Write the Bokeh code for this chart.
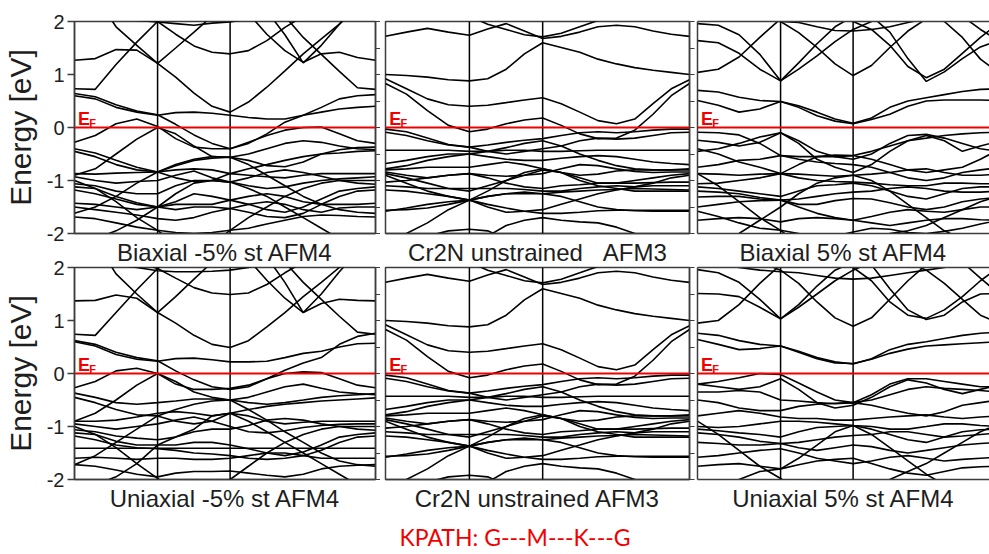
from bokeh.plotting import figure
from bokeh.layouts import column, row
from bokeh.models import Range1d, Span, Label, LinearAxis, FixedTicker, Title
from bokeh.embed import file_html
from bokeh.resources import INLINE

# positions along the G-M-K-G path (fraction of path length)
KPOS = [0.0, 0.069, 0.138, 0.207, 0.276, 0.336, 0.397, 0.457, 0.517,
        0.578, 0.639, 0.699, 0.760, 0.820, 0.880, 0.940, 1.0]
M_POS = 0.276
K_POS = 0.517

Y_TICKS = [-2, -1, 0, 1, 2]
Y_TICK_LABELS = ["-2", "-1", "0", "1", "2"]
HALF_TICKS = [-2, -1.5, -1, -0.5, 0, 0.5, 1, 1.5, 2]

TITLES_TOP = ["Biaxial -5% st AFM4", "Cr2N unstrained\u00a0\u00a0\u00a0AFM3", "Biaxial 5% st AFM4"]
TITLES_BOTTOM = ["Uniaxial -5% st AFM4", "Cr2N unstrained AFM3", "Uniaxial 5% st AFM4"]
PATH_NOTE = "KPATH: G---M---K---G"

# band energies (eV) sampled at KPOS
BIAX_M5 = [
    [1.27, 1.30, 1.47, 1.46, 1.21, 1.50, 1.80, 2.10, 2.30, 2.15, 1.76, 1.45, 1.23, 1.39, 1.42, 1.32, 1.27],
    [2.5, 2.5, 2.5, 2.5, 2.5, 2.5, 2.5, 2.5, 2.5, 2.5, 2.2, 1.75, 1.22, 1.55, 1.95, 2.3, 2.5],
    [0.73, 0.72, 1.19, 1.61, 2.0, 2.3, 2.5, 2.5, 2.5, 2.5, 2.4, 2.1, 1.7, 1.38, 1.06, 0.75, 0.72],
    [2.5, 2.5, 1.9, 1.55, 1.21, 0.95, 0.65, 0.40, 0.29, 0.48, 0.76, 1.07, 1.39, 1.67, 1.95, 2.3, 2.5],
    [2.5, 2.5, 2.3, 2.1, 2.0, 1.76, 1.54, 1.42, 1.39, 1.45, 1.64, 1.89, 2.1, 2.3, 2.5, 2.5, 2.5],
    [2.3, 2.15, 2.05, 2.02, 1.99, 1.96, 1.93, 1.97, 1.99, 2.05, 2.2, 2.4, 2.5, 2.5, 2.5, 2.5, 2.3],
    [0.60, 0.54, 0.38, 0.29, 0.23, 0.28, 0.29, 0.27, 0.23, 0.19, 0.16, 0.16, 0.23, 0.38, 0.54, 0.60, 0.62],
    [0.64, 0.58, 0.43, 0.31, 0.24, 0.06, -0.14, -0.30, -0.40, -0.30, -0.12, 0.10, 0.23, 0.29, 0.35, 0.38, 0.40],
    [-0.28, -0.15, 0.07, 0.16, 0.02, -0.21, -0.37, -0.40, -0.40, -0.28, -0.15, -0.05, 0.0, 0.01, -0.12, -0.25, -0.30],
    [-0.90, -0.78, -0.50, -0.22, 0.0, -0.12, -0.35, -0.55, -0.56, -0.50, -0.40, -0.30, -0.25, -0.28, -0.35, -0.40, -0.42],
    [-0.40, -0.48, -0.62, -0.75, -0.84, -0.72, -0.62, -0.58, -0.56, -0.62, -0.72, -0.74, -0.65, -0.50, -0.42, -0.38, -0.37],
    [-0.45, -0.55, -0.70, -0.80, -0.84, -0.95, -1.02, -1.00, -0.87, -0.78, -0.70, -0.62, -0.55, -0.50, -0.48, -0.45, -0.44],
    [-0.87, -0.88, -0.86, -0.85, -0.84, -0.80, -0.78, -0.80, -0.87, -0.90, -0.93, -0.95, -0.90, -0.87, -0.87, -0.87, -0.87],
    [-0.93, -1.00, -1.05, -1.02, -1.00, -0.90, -0.82, -0.95, -1.03, -1.10, -1.15, -1.12, -1.05, -1.00, -0.97, -0.95, -0.93],
    [-1.06, -1.10, -1.20, -1.25, -1.25, -1.10, -1.00, -1.00, -1.03, -0.95, -0.85, -0.80, -0.85, -0.92, -1.00, -1.05, -1.07],
    [-1.12, -1.15, -1.30, -1.42, -1.50, -1.40, -1.25, -1.30, -1.37, -1.45, -1.55, -1.60, -1.50, -1.35, -1.20, -1.15, -1.12],
    [-1.18, -1.25, -1.35, -1.45, -1.50, -1.55, -1.50, -1.50, -1.53, -1.60, -1.68, -1.70, -1.62, -1.45, -1.30, -1.20, -1.18],
    [-1.43, -1.45, -1.50, -1.55, -1.50, -1.45, -1.45, -1.45, -1.37, -1.30, -1.25, -1.30, -1.40, -1.45, -1.45, -1.45, -1.43],
    [-1.50, -1.55, -1.60, -1.65, -1.72, -1.75, -1.70, -1.60, -1.53, -1.45, -1.40, -1.45, -1.55, -1.60, -1.52, -1.50, -1.50],
    [-1.69, -1.72, -1.80, -1.88, -1.94, -1.98, -2.00, -1.98, -1.94, -1.90, -1.82, -1.75, -1.68, -1.65, -1.66, -1.68, -1.69],
    [-1.00, -1.15, -1.40, -1.70, -1.94, -2.20, -2.40, -2.20, -1.94, -1.70, -1.50, -1.30, -1.15, -1.05, -1.00, -1.00, -1.00],
    [-2.20, -2.10, -1.95, -1.75, -1.50, -1.25, -1.05, -1.00, -1.03, -1.15, -1.30, -1.50, -1.70, -1.90, -2.10, -2.30, -2.40],
    [-1.62, -1.50, -1.30, -1.05, -0.84, -0.70, -0.60, -0.55, -0.56, -0.70, -0.90, -1.10, -1.30, -1.45, -1.55, -1.60, -1.62],
]

UNSTRAINED = [
    [1.72, 1.80, 1.87, 1.80, 1.74, 1.86, 1.96, 1.82, 1.68, 1.72, 1.80, 1.90, 1.93, 1.90, 1.82, 1.76, 1.72],
    [2.5, 2.5, 2.5, 2.3, 2.1, 1.95, 1.85, 1.75, 1.71, 1.78, 1.90, 2.02, 2.2, 2.4, 2.5, 2.5, 2.5],
    [1.00, 0.98, 0.95, 0.90, 0.88, 0.92, 1.10, 1.39, 1.60, 1.51, 1.42, 1.29, 1.20, 1.13, 1.08, 1.04, 1.00],
    [0.92, 0.73, 0.54, 0.43, 0.40, 0.42, 0.47, 0.52, 0.56, 0.45, 0.29, 0.13, 0.07, 0.16, 0.45, 0.73, 0.90],
    [0.83, 0.63, 0.32, 0.04, -0.08, -0.03, 0.07, 0.14, 0.18, 0.04, -0.12, -0.21, -0.20, -0.05, 0.25, 0.60, 0.83],
    [-0.03, -0.08, -0.20, -0.32, -0.37, -0.33, -0.28, -0.24, -0.21, -0.15, -0.10, -0.08, -0.10, -0.08, -0.05, -0.03, -0.03],
    [-0.09, -0.15, -0.25, -0.33, -0.37, -0.45, -0.50, -0.45, -0.40, -0.35, -0.25, -0.20, -0.22, -0.20, -0.15, -0.10, -0.09],
    [-0.43, -0.43, -0.43, -0.43, -0.45, -0.45, -0.43, -0.43, -0.45, -0.45, -0.44, -0.43, -0.43, -0.43, -0.43, -0.43, -0.43],
    [-0.68, -0.62, -0.55, -0.50, -0.50, -0.55, -0.60, -0.62, -0.62, -0.58, -0.55, -0.53, -0.55, -0.60, -0.65, -0.68, -0.70],
    [-0.78, -0.72, -0.62, -0.55, -0.50, -0.45, -0.38, -0.30, -0.25, -0.35, -0.50, -0.62, -0.72, -0.78, -0.80, -0.80, -0.78],
    [-0.80, -0.78, -0.75, -0.75, -0.75, -0.70, -0.65, -0.70, -0.78, -0.85, -0.90, -0.88, -0.82, -0.80, -0.80, -0.80, -0.80],
    [-0.84, -0.90, -0.95, -0.90, -0.87, -0.90, -0.92, -0.90, -0.87, -0.78, -0.70, -0.72, -0.78, -0.83, -0.85, -0.84, -0.84],
    [-0.87, -0.95, -1.05, -1.15, -1.20, -1.10, -1.00, -0.90, -0.80, -0.85, -0.95, -1.05, -1.05, -1.00, -0.95, -0.90, -0.87],
    [-1.03, -1.00, -0.95, -0.90, -0.87, -0.95, -1.05, -1.12, -1.15, -1.10, -1.08, -1.05, -1.05, -1.05, -1.04, -1.03, -1.03],
    [-1.10, -1.12, -1.15, -1.15, -1.15, -1.15, -1.15, -1.17, -1.20, -1.20, -1.15, -1.12, -1.10, -1.12, -1.10, -1.10, -1.10],
    [-1.18, -1.20, -1.25, -1.30, -1.37, -1.30, -1.25, -1.22, -1.25, -1.22, -1.20, -1.18, -1.17, -1.15, -1.16, -1.17, -1.18],
    [-1.56, -1.55, -1.52, -1.45, -1.37, -1.45, -1.52, -1.58, -1.62, -1.62, -1.60, -1.57, -1.56, -1.56, -1.56, -1.56, -1.56],
    [-1.58, -1.52, -1.45, -1.40, -1.37, -1.30, -1.25, -1.25, -1.25, -1.30, -1.40, -1.50, -1.55, -1.57, -1.58, -1.58, -1.58],
    [-2.20, -2.00, -1.80, -1.55, -1.37, -1.20, -1.00, -0.85, -0.78, -0.85, -1.00, -1.10, -1.15, -1.20, -1.20, -1.20, -1.20],
    [-0.90, -1.05, -1.20, -1.30, -1.37, -1.50, -1.60, -1.58, -1.55, -1.45, -1.35, -1.25, -1.18, -1.12, -1.05, -0.95, -0.90],
    [-2.30, -2.20, -2.05, -1.95, -1.92, -1.95, -2.10, -2.30, -2.30, -2.30, -2.30, -2.30, -2.30, -2.30, -2.30, -2.30, -2.30],
    [-2.30, -2.30, -2.30, -2.30, -2.20, -2.05, -1.85, -1.75, -1.70, -1.75, -1.78, -1.80, -1.88, -2.00, -2.20, -2.30, -2.30],
]

BIAX_P5 = [
    [1.96, 1.93, 1.75, 1.38, 0.88, 1.22, 1.58, 1.90, 2.10, 2.30, 2.50, 2.50, 2.50, 2.50, 2.40, 2.15, 1.96],
    [1.64, 1.60, 1.40, 1.10, 0.88, 1.10, 1.35, 1.62, 1.85, 2.00, 2.20, 2.40, 2.50, 2.40, 2.10, 1.85, 1.64],
    [1.04, 1.10, 1.33, 1.70, 2.05, 2.30, 2.50, 2.50, 2.50, 2.50, 2.50, 2.30, 2.15, 2.00, 1.70, 1.29, 1.04],
    [2.5, 2.5, 2.3, 2.1, 2.0, 1.79, 1.51, 1.20, 0.98, 1.17, 1.51, 1.82, 2.05, 2.3, 2.5, 2.5, 2.5],
    [2.5, 2.5, 2.5, 2.5, 2.5, 2.5, 2.2, 2.05, 2.0, 1.85, 1.55, 1.15, 0.94, 1.10, 1.40, 1.70, 1.96],
    [2.5, 2.5, 2.5, 2.5, 2.5, 2.5, 2.5, 2.5, 2.3, 2.10, 1.80, 1.30, 0.87, 1.05, 1.30, 1.52, 1.64],
    [2.10, 2.10, 2.05, 2.02, 2.00, 1.98, 1.90, 1.83, 1.82, 1.85, 1.90, 1.98, 2.05, 2.10, 2.20, 2.20, 2.10],
    [0.70, 0.67, 0.57, 0.51, 0.49, 0.41, 0.29, 0.16, 0.08, 0.18, 0.38, 0.50, 0.56, 0.62, 0.68, 0.72, 0.73],
    [0.51, 0.42, 0.29, 0.35, 0.49, 0.38, 0.22, 0.12, 0.07, 0.15, 0.25, 0.40, 0.50, 0.52, 0.52, 0.52, 0.51],
    [-0.45, -0.40, -0.30, -0.18, -0.10, -0.25, -0.45, -0.55, -0.60, -0.50, -0.30, -0.15, -0.13, -0.20, -0.30, -0.40, -0.45],
    [-0.09, -0.10, -0.14, -0.30, -0.53, -0.55, -0.55, -0.55, -0.53, -0.45, -0.35, -0.25, -0.20, -0.15, -0.12, -0.10, -0.09],
    [-0.24, -0.28, -0.35, -0.28, -0.10, -0.30, -0.60, -0.75, -0.85, -0.70, -0.45, -0.25, -0.15, -0.25, -0.45, -0.35, -0.26],
    [-0.40, -0.50, -0.65, -0.75, -0.87, -0.70, -0.55, -0.52, -0.53, -0.60, -0.70, -0.80, -0.85, -0.80, -0.75, -0.60, -0.42],
    [-0.75, -0.70, -0.62, -0.60, -0.53, -0.60, -0.65, -0.68, -0.70, -0.75, -0.85, -0.95, -1.00, -0.95, -0.85, -0.80, -0.76],
    [-0.87, -0.88, -0.90, -0.88, -0.87, -0.88, -0.90, -0.92, -0.90, -0.88, -0.85, -0.80, -0.78, -0.85, -0.90, -0.90, -0.88],
    [-1.06, -1.05, -1.00, -0.95, -0.87, -0.95, -1.00, -1.02, -1.03, -1.05, -1.08, -1.10, -1.10, -1.05, -1.05, -1.06, -1.06],
    [-1.12, -1.15, -1.20, -1.25, -1.30, -1.20, -1.10, -1.08, -1.05, -1.10, -1.20, -1.30, -1.35, -1.25, -1.15, -1.12, -1.12],
    [-1.20, -1.22, -1.25, -1.32, -1.37, -1.35, -1.30, -1.25, -1.22, -1.20, -1.15, -1.12, -1.15, -1.20, -1.22, -1.22, -1.20],
    [-1.31, -1.30, -1.30, -1.35, -1.37, -1.45, -1.45, -1.38, -1.34, -1.35, -1.42, -1.50, -1.55, -1.50, -1.40, -1.35, -1.32],
    [-1.50, -1.45, -1.40, -1.38, -1.37, -1.50, -1.62, -1.70, -1.75, -1.68, -1.60, -1.55, -1.58, -1.60, -1.55, -1.50, -1.50],
    [-1.75, -1.72, -1.70, -1.72, -1.78, -1.72, -1.70, -1.72, -1.75, -1.80, -1.85, -1.80, -1.75, -1.72, -1.72, -1.74, -1.75],
    [-1.58, -1.68, -1.80, -1.90, -1.94, -2.00, -2.10, -2.05, -1.97, -1.90, -1.92, -1.98, -2.00, -1.96, -1.90, -1.82, -1.75],
    [-0.87, -1.10, -1.40, -1.70, -1.94, -2.20, -2.40, -2.40, -2.30, -2.10, -2.00, -1.95, -1.85, -1.70, -1.55, -1.40, -1.30],
    [-2.30, -2.20, -2.00, -1.75, -1.50, -1.25, -1.05, -0.95, -0.90, -1.00, -1.20, -1.45, -1.70, -1.95, -2.10, -2.20, -2.30],
]

UNIAX_M5 = [
    [1.37, 1.38, 1.48, 1.42, 1.15, 1.45, 1.78, 2.10, 2.30, 2.15, 1.76, 1.42, 1.15, 1.32, 1.40, 1.38, 1.37],
    [2.5, 2.5, 2.5, 2.5, 2.5, 2.5, 2.5, 2.5, 2.5, 2.5, 2.2, 1.72, 1.15, 1.50, 1.92, 2.3, 2.5],
    [0.74, 0.72, 1.15, 1.58, 1.98, 2.3, 2.5, 2.5, 2.5, 2.5, 2.4, 2.1, 1.72, 1.40, 1.08, 0.78, 0.74],
    [2.5, 2.5, 1.88, 1.50, 1.15, 0.95, 0.72, 0.55, 0.49, 0.62, 0.88, 1.15, 1.45, 1.72, 2.0, 2.3, 2.5],
    [2.5, 2.5, 2.3, 2.1, 1.98, 1.80, 1.62, 1.52, 1.49, 1.52, 1.68, 1.90, 2.1, 2.3, 2.5, 2.5, 2.5],
    [2.3, 2.15, 2.05, 2.0, 1.94, 1.92, 1.92, 1.93, 1.95, 2.0, 2.15, 2.4, 2.5, 2.5, 2.5, 2.5, 2.3],
    [0.60, 0.52, 0.36, 0.27, 0.23, 0.28, 0.29, 0.26, 0.22, 0.22, 0.23, 0.30, 0.38, 0.42, 0.50, 0.56, 0.57],
    [0.62, 0.55, 0.40, 0.30, 0.24, 0.05, -0.12, -0.25, -0.30, -0.25, -0.10, 0.06, 0.20, 0.30, 0.55, 0.70, 0.76],
    [-0.27, -0.15, 0.05, 0.10, 0.0, -0.20, -0.30, -0.30, -0.28, -0.22, -0.10, 0.0, 0.03, 0.02, -0.10, -0.22, -0.27],
    [-0.90, -0.75, -0.50, -0.22, 0.0, -0.15, -0.35, -0.45, -0.50, -0.45, -0.35, -0.25, -0.20, -0.28, -0.35, -0.38, -0.40],
    [-0.37, -0.45, -0.55, -0.58, -0.55, -0.52, -0.48, -0.48, -0.50, -0.55, -0.58, -0.55, -0.50, -0.45, -0.42, -0.40, -0.38],
    [-0.45, -0.55, -0.68, -0.78, -0.80, -0.90, -0.95, -0.90, -0.75, -0.68, -0.62, -0.58, -0.55, -0.52, -0.50, -0.48, -0.46],
    [-0.90, -0.90, -0.88, -0.82, -0.75, -0.72, -0.75, -0.80, -0.75, -0.80, -0.90, -0.95, -0.92, -0.90, -0.90, -0.90, -0.90],
    [-0.95, -1.00, -1.05, -1.00, -0.95, -0.88, -0.82, -0.90, -1.00, -1.10, -1.12, -1.08, -1.02, -0.98, -0.96, -0.95, -0.95],
    [-1.06, -1.10, -1.18, -1.22, -1.25, -1.20, -1.10, -1.05, -1.05, -0.98, -0.88, -0.85, -0.88, -0.95, -1.00, -1.05, -1.07],
    [-1.12, -1.15, -1.28, -1.35, -1.35, -1.35, -1.30, -1.30, -1.35, -1.42, -1.50, -1.55, -1.48, -1.35, -1.20, -1.15, -1.12],
    [-1.18, -1.25, -1.35, -1.40, -1.42, -1.45, -1.50, -1.52, -1.55, -1.60, -1.62, -1.60, -1.55, -1.45, -1.30, -1.20, -1.18],
    [-1.41, -1.41, -1.41, -1.41, -1.41, -1.41, -1.41, -1.41, -1.41, -1.41, -1.41, -1.41, -1.41, -1.41, -1.41, -1.41, -1.41],
    [-1.60, -1.58, -1.60, -1.62, -1.60, -1.60, -1.62, -1.62, -1.60, -1.55, -1.50, -1.50, -1.55, -1.60, -1.60, -1.60, -1.60],
    [-1.72, -1.75, -1.82, -1.90, -1.95, -1.88, -1.85, -1.85, -1.84, -1.88, -1.92, -1.95, -1.90, -1.80, -1.75, -1.73, -1.72],
    [-1.00, -1.15, -1.40, -1.70, -1.98, -2.20, -2.40, -2.20, -2.00, -1.75, -1.50, -1.30, -1.15, -1.05, -1.00, -1.00, -1.00],
    [-2.20, -2.10, -1.95, -1.70, -1.35, -1.20, -1.05, -0.80, -0.75, -0.90, -1.10, -1.30, -1.50, -1.70, -1.90, -2.10, -2.30],
    [-1.72, -1.55, -1.30, -1.05, -0.80, -0.68, -0.58, -0.52, -0.50, -0.68, -0.88, -1.10, -1.30, -1.50, -1.65, -1.72, -1.75],
]

UNIAX_P5 = [
    [1.96, 1.90, 1.72, 1.40, 1.03, 1.30, 1.65, 1.95, 2.10, 2.30, 2.50, 2.50, 2.50, 2.50, 2.40, 2.15, 1.96],
    [1.51, 1.50, 1.45, 1.25, 1.03, 1.25, 1.50, 1.75, 1.95, 2.10, 2.30, 2.50, 2.50, 2.40, 2.10, 1.80, 1.51],
    [0.95, 1.00, 1.30, 1.70, 2.05, 2.30, 2.50, 2.50, 2.50, 2.50, 2.30, 2.10, 1.95, 1.70, 1.40, 1.10, 0.95],
    [2.5, 2.5, 2.3, 2.1, 1.95, 1.70, 1.35, 1.05, 0.89, 1.05, 1.40, 1.75, 2.05, 2.30, 2.50, 2.50, 2.50],
    [2.5, 2.5, 2.5, 2.5, 2.5, 2.5, 2.3, 2.1, 2.0, 1.75, 1.35, 1.10, 1.04, 1.20, 1.45, 1.75, 2.00],
    [2.5, 2.5, 2.5, 2.5, 2.5, 2.5, 2.5, 2.5, 2.3, 2.05, 1.60, 1.20, 1.02, 1.10, 1.35, 1.50, 1.51],
    [2.10, 2.05, 2.00, 1.95, 1.92, 1.90, 1.85, 1.80, 1.78, 1.80, 1.85, 1.90, 1.95, 2.00, 2.05, 2.10, 2.10],
    [0.76, 0.72, 0.62, 0.55, 0.52, 0.42, 0.30, 0.22, 0.18, 0.28, 0.45, 0.55, 0.60, 0.66, 0.72, 0.76, 0.78],
    [0.64, 0.55, 0.45, 0.47, 0.52, 0.40, 0.28, 0.20, 0.19, 0.27, 0.38, 0.46, 0.52, 0.54, 0.56, 0.58, 0.60],
    [-0.20, -0.15, -0.08, 0.00, -0.02, -0.18, -0.35, -0.50, -0.55, -0.40, -0.20, -0.10, -0.10, -0.15, -0.20, -0.25, -0.25],
    [-0.20, -0.25, -0.30, -0.25, -0.10, -0.30, -0.55, -0.65, -0.60, -0.45, -0.25, -0.12, -0.18, -0.30, -0.38, -0.30, -0.22],
    [-0.35, -0.35, -0.32, -0.35, -0.50, -0.52, -0.55, -0.57, -0.55, -0.50, -0.40, -0.30, -0.25, -0.28, -0.30, -0.32, -0.35],
    [-0.50, -0.55, -0.65, -0.70, -0.70, -0.62, -0.58, -0.56, -0.55, -0.60, -0.68, -0.75, -0.80, -0.72, -0.60, -0.55, -0.50],
    [-0.80, -0.75, -0.70, -0.75, -0.82, -0.85, -0.85, -0.88, -0.88, -0.85, -0.82, -0.80, -0.78, -0.82, -0.85, -0.82, -0.80],
    [-1.00, -1.02, -1.00, -0.95, -0.90, -0.90, -0.92, -0.95, -0.98, -1.00, -1.05, -1.05, -1.00, -0.95, -0.95, -0.98, -1.00],
    [-1.05, -1.08, -1.12, -1.15, -1.20, -1.10, -1.02, -1.00, -0.98, -1.05, -1.15, -1.25, -1.30, -1.20, -1.10, -1.06, -1.05],
    [-1.12, -1.15, -1.20, -1.28, -1.32, -1.30, -1.25, -1.20, -1.17, -1.15, -1.10, -1.10, -1.15, -1.20, -1.18, -1.15, -1.12],
    [-1.30, -1.32, -1.35, -1.35, -1.32, -1.40, -1.45, -1.40, -1.35, -1.38, -1.45, -1.50, -1.45, -1.40, -1.35, -1.32, -1.30],
    [-1.58, -1.55, -1.50, -1.45, -1.42, -1.50, -1.60, -1.65, -1.70, -1.65, -1.58, -1.55, -1.60, -1.65, -1.62, -1.60, -1.58],
    [-1.75, -1.72, -1.70, -1.75, -1.80, -1.72, -1.65, -1.62, -1.60, -1.70, -1.80, -1.88, -1.92, -1.85, -1.78, -1.76, -1.75],
    [-0.90, -1.15, -1.45, -1.75, -1.98, -2.20, -2.30, -2.30, -2.30, -2.20, -2.00, -1.85, -1.70, -1.50, -1.30, -1.10, -0.95],
    [-2.30, -2.20, -2.00, -1.85, -1.80, -1.60, -1.35, -1.10, -0.98, -1.15, -1.40, -1.65, -1.90, -2.10, -2.20, -2.30, -2.30],
]

FRAME = "#3c3c3c"
RED = "#f20000"
TEXT = "#1e1e1e"
FONT = "Liberation Sans"


def blank_axis(**kw):
    return LinearAxis(ticker=FixedTicker(ticks=[]), major_tick_out=0, major_tick_in=0,
                      minor_tick_out=0, minor_tick_in=0, major_label_standoff=0,
                      axis_line_color=FRAME, axis_line_width=1.5, **kw)


def panel(bands, caption, frame_w, x_end, borders, labelled, right_ticks, open_right, fill):
    l, r, t, b = borders
    p = figure(x_range=Range1d(0, x_end), y_range=Range1d(-2, 2),
               frame_width=frame_w, frame_height=212,
               min_border_left=l, min_border_right=r, min_border_top=t, min_border_bottom=b,
               x_axis_type=None, y_axis_type=None,
               toolbar_location=None, output_backend="svg",
               background_fill_color="white", border_fill_color=fill)
    p.grid.visible = False
    if open_right:
        # right edge runs past the page: draw left/top borders as axis lines
        p.outline_line_color = None
        p.add_layout(blank_axis(), "above")
        p.add_layout(blank_axis(), "left")
    else:
        p.outline_line_color = FRAME
        p.outline_line_width = 1.5

    # panel caption under the frame
    p.add_layout(blank_axis(axis_label=caption, axis_label_standoff=5,
                            axis_label_text_font=FONT, axis_label_text_font_size="24px",
                            axis_label_text_font_style="normal", axis_label_text_color=TEXT),
                 "below")

    if labelled:
        left = LinearAxis(ticker=FixedTicker(ticks=Y_TICKS),
                          major_label_overrides=dict(zip(Y_TICKS, Y_TICK_LABELS)),
                          major_label_text_font=FONT, major_label_text_font_size="20px",
                          major_label_text_color=TEXT, major_label_standoff=3,
                          major_tick_out=7, major_tick_in=0, minor_tick_out=0, minor_tick_in=0,
                          major_tick_line_color=FRAME, major_tick_line_width=1.5,
                          axis_line_color=FRAME, axis_line_width=1.5,
                          axis_label="Energy [eV]", axis_label_standoff=7,
                          axis_label_text_font=FONT, axis_label_text_font_size="30px",
                          axis_label_text_font_style="normal", axis_label_text_color=TEXT)
        p.add_layout(left, "left")

    if right_ticks:
        right = LinearAxis(ticker=FixedTicker(ticks=[], minor_ticks=HALF_TICKS),
                           major_tick_out=0, major_tick_in=0, major_label_standoff=0,
                           minor_tick_out=5, minor_tick_in=0, minor_tick_line_color=FRAME,
                           axis_line_color=FRAME, axis_line_width=1.5)
        p.add_layout(right, "right")

    p.multi_line(xs=[KPOS] * len(bands), ys=bands, line_color="black", line_width=1.6)

    for pos in (M_POS, K_POS):
        p.add_layout(Span(location=pos, dimension="height", line_color="black", line_width=1.5))
    p.add_layout(Span(location=0, dimension="width", line_color=RED, line_width=2))

    p.add_layout(Label(x=0.012, y=0.163, text="E", text_font=FONT, text_font_size="18px",
                       text_font_style="bold", text_color=RED, text_baseline="alphabetic"))
    p.add_layout(Label(x=0.049, y=0.08, text="F", text_font=FONT, text_font_size="11px",
                       text_font_style="bold", text_color=RED, text_baseline="alphabetic"))
    return p


OPEN_END = 292 / 301

p1 = panel(BIAX_M5, TITLES_TOP[0], 301, 1.0, (74, 5, 21, 40), True, True, False, "white")
p2 = panel(UNSTRAINED, TITLES_TOP[1], 304, 1.0, (5, 7, 21, 40), False, True, False, "white")
p3 = panel(BIAX_P5, TITLES_TOP[2], 292, OPEN_END, (1, 0, 21, 40), False, False, True, "white")

# lower row: transparent border so it can tuck under the captions above
p4 = panel(UNIAX_M5, TITLES_BOTTOM[0], 301, 1.0, (74, 5, 10, 75), True, True, False, None)
p5 = panel(UNSTRAINED, TITLES_BOTTOM[1], 304, 1.0, (5, 7, 10, 75), False, True, False, None)
p6 = panel(UNIAX_P5, TITLES_BOTTOM[2], 292, OPEN_END, (1, 0, 10, 75), False, False, True, None)

p5.add_layout(Title(text=PATH_NOTE, align="left", offset=14, standoff=13,
                    text_font="Lato", text_font_size="23px", text_font_style="normal",
                    text_color=RED), "below")

top = row(p1, p2, p3, spacing=0)
bottom = row(p4, p5, p6, spacing=0, margin=(-16, 0, 0, 0))
layout = column(top, bottom, spacing=0)

open("out.html", "w").write(file_html(layout, INLINE))
